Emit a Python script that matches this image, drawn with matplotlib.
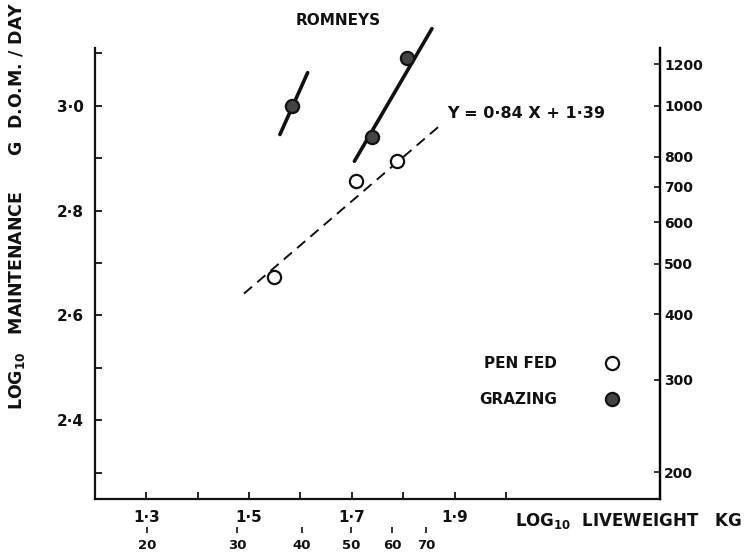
import numpy as np
import matplotlib
matplotlib.use("Agg")
import matplotlib.pyplot as plt

# Romneys: log10 maintenance (g DOM/day) vs log10 liveweight (kg)
pen_x = [1.549, 1.708, 1.787]
pen_y = [2.673, 2.856, 2.894]

graze_x = [1.583, 1.739, 1.807]
graze_y = [3.000, 2.941, 3.091]

# grazing regression segments (x0, x1), (y0, y1)
graze_lines_x = [[1.560, 1.614], [1.705, 1.856]]
graze_lines_y = [[2.945, 3.063], [2.894, 3.147]]

# pen-fed regression Y = 0.84 X + 1.39
fit_slope, fit_icept = 0.84, 1.39
fit_x = [1.49, 1.875]

right_vals = [200, 300, 400, 500, 600, 700, 800, 1000, 1200]
kg_vals = [20, 30, 40, 50, 60, 70]

plt.rcParams['font.family'] = ['DejaVu Sans']
plt.rcParams['font.weight'] = 'bold'

fig = plt.figure(figsize=(7.53, 5.57), dpi=100)
ax = fig.add_axes([95 / 753, 1 - 499 / 557, 565 / 753, 451 / 557])

ink = '#111111'

fx = np.array(fit_x)
ax.plot(fx, fit_slope * fx + fit_icept, ls=(0, (5.5, 3.5)), color=ink, lw=1.4)

for lx, ly in zip(graze_lines_x, graze_lines_y):
    ax.plot(lx, ly, color=ink, lw=2.6, solid_capstyle='round', clip_on=False)

ax.plot(pen_x, pen_y, 'o', ms=9.5, mfc='white', mec=ink, mew=1.6,
        ls='none', label='PEN FED')
ax.plot(graze_x, graze_y, 'o', ms=9.5, mfc='#444444', mec=ink, mew=1.6,
        ls='none', label='GRAZING', clip_on=False)

ax.set_xlim(1.2, 2.3)
ax.set_ylim(2.25, 3.11)

ax.spines['top'].set_visible(False)
for side in ['left', 'bottom', 'right']:
    ax.spines[side].set_linewidth(1.6)
    ax.spines[side].set_color(ink)

ax.set_xticks(np.arange(1.3, 2.01, 0.1))
ax.set_xticklabels(['1·3', '', '1·5', '', '1·7', '', '1·9', ''])
ax.set_yticks(np.arange(2.3, 3.11, 0.1))
ax.set_yticklabels(['', '2·4', '', '2·6', '', '2·8', '', '3·0', ''])
ax.tick_params(axis='both', direction='in', length=5, width=1.3,
               labelsize=11, colors=ink, pad=8)

# right axis: maintenance in g/day on a log scale
axr = ax.twinx()
axr.set_ylim(ax.get_ylim())
axr.set_yticks(np.log10(right_vals))
axr.set_yticklabels([str(v) for v in right_vals])
axr.tick_params(axis='y', direction='in', length=4, width=1.2,
                labelsize=10, pad=3, colors=ink)
for side in ['top', 'left', 'bottom']:
    axr.spines[side].set_visible(False)
axr.spines['right'].set_linewidth(1.6)

# secondary liveweight scale in kg
sec = ax.secondary_xaxis(-0.062)
sec.set_xticks(np.log10(kg_vals))
sec.set_xticklabels([str(v) for v in kg_vals])
sec.spines['bottom'].set_visible(False)
sec.tick_params(axis='x', direction='out', length=4, width=1.2,
                labelsize=9.5, pad=5, colors=ink)

ax.text(0.43, 1.06, 'ROMNEYS', transform=ax.transAxes, ha='center',
        va='center', fontsize=11, color=ink)
ax.text(1.885, 2.986, 'Y = 0·84 X + 1·39', ha='left', va='center',
        fontsize=11.5, color=ink)

fig.text(17 / 753, 1 - 206 / 557,
         'LOG$_{10}$   MAINTENANCE      G  D.O.M. / DAY',
         rotation=90, ha='center', va='center', fontsize=12.5, color=ink)
fig.text(515 / 753, 1 - 521 / 557, 'LOG$_{10}$  LIVEWEIGHT   KG', ha='left',
         va='center', fontsize=12, color=ink)

ax.legend(loc='center left', bbox_to_anchor=(0.655, 0.26), frameon=False,
          markerfirst=False, fontsize=11, handletextpad=3.2,
          labelspacing=1.35, handlelength=0.8, labelcolor=ink)

fig.savefig('out.png', dpi=100, facecolor='white')
